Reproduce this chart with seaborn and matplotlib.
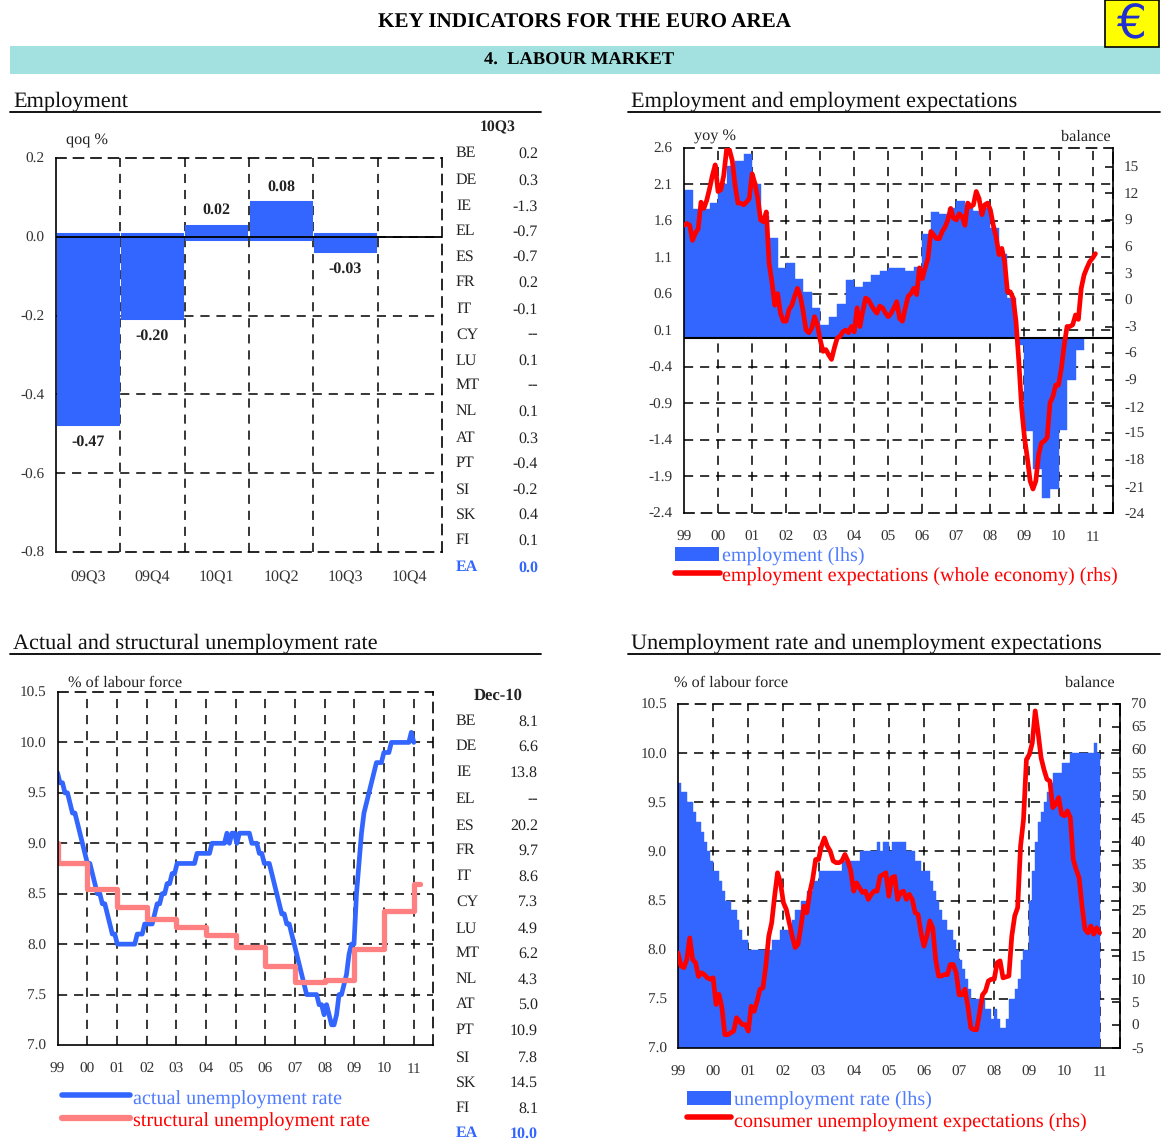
"""
Euro area key indicators - labour market page
"""
import numpy as np
import pandas as pd
import matplotlib
matplotlib.use('Agg')
import matplotlib.pyplot as plt
from matplotlib.lines import Line2D
from matplotlib.patches import Rectangle
import seaborn as sns

W, H = 1165, 1140
BLUE = '#3366FF'
RED = '#FF0000'
PINK = '#FF8080'
DASH = (0, (6, 4.5))

# Employment, qoq %
emp_quarters = ['09Q3', '09Q4', '10Q1', '10Q2', '10Q3', '10Q4']
emp_qoq = [-0.47, -0.20, 0.02, 0.08, -0.03, np.nan]

countries = ['BE', 'DE', 'IE', 'EL', 'ES', 'FR', 'IT', 'CY', 'LU', 'MT', 'NL', 'AT', 'PT', 'SI', 'SK', 'FI', 'EA']
emp_table = ['0.2', '0.3', '-1.3', '-0.7', '-0.7', '0.2', '-0.1', '--', '0.1', '--', '0.1', '0.3', '-0.4', '-0.2', '0.4', '0.1', '0.0']
unemp_table = ['8.1', '6.6', '13.8', '--', '20.2', '9.7', '8.6', '7.3', '4.9', '6.2', '4.3', '5.0', '10.9', '7.8', '14.5', '8.1', '10.0']

year_labels = ['99', '00', '01', '02', '03', '04', '05', '06', '07', '08', '09', '10', '11']

# Employment, yoy %, quarterly from 99Q1
emp_yoy = [2.02, 1.76, 1.76, 1.85, 2.10, 2.35, 2.42, 2.52,
           2.11, 1.67, 1.37, 0.95, 1.02, 0.81, 0.63, 0.41,
           0.18, 0.29, 0.46, 0.79, 0.69, 0.76, 0.86, 0.92,
           0.95, 0.95, 0.92, 0.97, 1.42, 1.72, 1.69, 1.78,
           1.88, 1.81, 1.74, 1.78, 1.51, 1.15, 0.55, -0.10,
           -1.28, -1.80, -2.20, -2.07, -1.26, -0.58, -0.17]

# Employment expectations, balance, monthly from Jan 99
emp_expect = [8.4, 8.6, 8.4, 6.7, 7.5, 8.0, 11.0, 10.3, 11.2, 12.5, 14.0, 15.2,
              12.2, 12.4, 14.0, 16.9, 16.9, 15.7, 12.9, 10.9, 10.9, 10.7, 11.0, 11.4,
              14.2, 13.1, 11.4, 9.0, 8.8, 9.9, 4.1, 2.0, -0.6, 0.7, -1.5, -2.4,
              -2.4, -1.1, -0.6, 0.4, 1.3, 0.4, -1.3, -3.4, -3.7, -3.2, -1.9, -2.8,
              -4.5, -5.8, -5.6, -6.2, -6.7, -5.4, -4.3, -4.1, -3.6, -3.4, -3.7, -3.0,
              -3.6, -0.9, -3.0, -1.3, 0.2, 0.0, -0.6, -1.1, -1.5, -0.7, -0.9, -1.5,
              -1.9, -1.5, -0.9, -0.2, -2.1, -2.4, -0.9, 0.4, 0.7, 1.3, 0.6, 3.6,
              2.4, 3.6, 4.7, 7.7, 7.3, 6.9, 6.9, 7.7, 8.2, 9.0, 10.3, 9.2,
              9.0, 9.7, 9.4, 8.4, 10.9, 10.5, 10.7, 12.2, 11.4, 9.6, 10.7, 10.9,
              10.1, 8.4, 7.1, 5.1, 5.8, 4.3, 0.9, 0.9, 0.2, -2.4, -6.9, -12.2,
              -15.5, -17.8, -20.4, -21.3, -20.4, -17.4, -16.1, -15.9, -15.5, -11.6, -10.9, -9.6,
              -9.6, -7.7, -5.1, -3.0, -3.0, -2.8, -1.7, -2.2, 1.3, 2.8, 3.6, 4.3,
              4.7, 5.2]

# Unemployment rate, monthly from Jan 99
unemp_rate = [9.7, 9.6, 9.6, 9.5, 9.5, 9.4, 9.3, 9.3, 9.2, 9.1, 9.0, 8.9,
              8.8, 8.8, 8.7, 8.6, 8.5, 8.5, 8.4, 8.4, 8.3, 8.2, 8.1, 8.1,
              8.0, 8.0, 8.0, 8.0, 8.0, 8.0, 8.0, 8.0, 8.1, 8.1, 8.1, 8.2,
              8.2, 8.2, 8.2, 8.3, 8.4, 8.4, 8.5, 8.5, 8.6, 8.6, 8.7, 8.7,
              8.8, 8.8, 8.8, 8.8, 8.8, 8.8, 8.8, 8.8, 8.9, 8.9, 8.9, 8.9,
              8.9, 8.9, 9.0, 9.0, 9.0, 9.0, 9.0, 9.0, 9.1, 9.0, 9.1, 9.1,
              9.0, 9.1, 9.1, 9.1, 9.1, 9.1, 9.0, 9.0, 9.0, 8.9, 8.9, 8.8,
              8.8, 8.8, 8.7, 8.6, 8.5, 8.4, 8.3, 8.3, 8.2, 8.2, 8.1, 8.0,
              7.9, 7.8, 7.7, 7.6, 7.5, 7.5, 7.5, 7.5, 7.5, 7.4, 7.4, 7.3,
              7.4, 7.3, 7.2, 7.2, 7.3, 7.5, 7.5, 7.6, 7.7, 7.9, 8.0, 8.0,
              8.5, 8.8, 9.1, 9.3, 9.4, 9.5, 9.6, 9.7, 9.8, 9.8, 9.8, 9.9,
              9.9, 9.9, 10.0, 10.0, 10.0, 10.0, 10.0, 10.0, 10.0, 10.0, 10.1, 10.0]

# Structural rate, yearly steps (first value is the drop at the axis)
struct_years = [0, 0, 1, 2, 3, 4, 5, 6, 7, 8, 9, 10, 11, 12, 12.2]
struct_rate = [9.0, 8.8, 8.55, 8.37, 8.25, 8.17, 8.09, 7.97, 7.78, 7.62, 7.64, 7.95, 8.33, 8.6, 8.6]

# Consumer unemployment expectations, balance, monthly from Jan 99
unemp_expect = [15.7, 12.9, 12.5, 14.3, 19.0, 14.3, 13.6, 10.6, 11.4, 11.0, 10.3, 10.0,
                10.3, 4.5, 6.7, 3.8, -2.1, -2.1, -1.7, -1.3, 1.6, 0.8, 0.1, 0.1,
                -1.3, 4.1, 3.0, 5.2, 7.8, 8.1, 12.9, 19.4, 22.3, 28.1, 33.2, 31.0,
                26.7, 25.2, 22.3, 19.4, 16.9, 17.6, 21.6, 25.9, 24.5, 28.9, 31.8, 36.1,
                36.1, 39.0, 40.8, 39.0, 37.9, 35.8, 35.4, 35.4, 35.8, 37.2, 35.8, 33.6,
                29.2, 31.0, 29.9, 28.9, 29.2, 27.4, 28.5, 29.2, 29.2, 32.4, 32.8, 33.2,
                28.1, 32.1, 32.4, 27.4, 28.9, 29.2, 27.4, 28.5, 27.4, 24.5, 24.1, 20.1,
                17.2, 19.4, 22.7, 21.2, 14.3, 10.7, 10.7, 11.0, 11.0, 13.2, 13.2, 11.4,
                6.6, 6.6, 7.8, 4.1, -0.6, -1.0, -1.0, 2.7, 6.6, 7.4, 9.6, 10.0,
                10.0, 13.6, 14.0, 10.3, 10.5, 10.7, 19.4, 23.8, 25.6, 39.0, 44.8, 57.9,
                59.0, 61.5, 68.5, 63.7, 58.3, 55.7, 53.6, 53.2, 47.4, 48.1, 49.6, 46.0,
                45.6, 46.7, 45.2, 36.1, 33.9, 32.1, 25.9, 20.9, 20.1, 21.6, 19.8, 21.2,
                20.1]


def fx(x):
    return x / W


def fy(y):
    return 1 - y / H


def make_axes(fig, left, top, right, bottom):
    return fig.add_axes([fx(left), fy(bottom), (right - left) / W, (bottom - top) / H])


def put_text(fig, x, y, s, size=11.7, ha='left', color='#222222', weight='normal'):
    # va center sits a little high for this font
    fig.text(fx(x), fy(y + 1.5), s, fontsize=size, ha=ha, va='center', color=color, fontweight=weight)


def style_axes(ax, solid=('left',)):
    ax.set_axisbelow(True)
    ax.set_xlabel('')
    ax.set_ylabel('')
    for name, spine in ax.spines.items():
        spine.set_visible(True)
        spine.set_color('black')
        spine.set_linewidth(1.2)
        spine.set_linestyle('-' if name in solid else DASH)
    ax.grid(True, color='black', linewidth=1.1, linestyle=DASH)
    ax.tick_params(axis='both', colors='#333333', labelsize=11)


def hide_edge_grid(ax):
    # grid lines on the frame would fill in the dashes of the spines
    for line in [ax.get_ygridlines()[0], ax.get_ygridlines()[-1]]:
        line.set_visible(False)
    xlines = ax.get_xgridlines()
    if len(xlines) > 1:
        xlines[0].set_visible(False)


def style_years(ax, n_years=12):
    ax.set_xticks(range(n_years + 1))
    ax.set_xticklabels(year_labels)
    ax.tick_params(axis='x', direction='inout', length=7, width=1.1, color='black', pad=9)
    ax.tick_params(axis='y', length=0, pad=8)
    hide_edge_grid(ax)


def style_right(twin, ticks):
    for name, spine in twin.spines.items():
        spine.set_visible(name == 'right')
    twin.spines['right'].set_color('black')
    twin.spines['right'].set_linewidth(1.2)
    twin.set_yticks(ticks)
    twin.grid(False)
    twin.set_ylabel('')
    twin.tick_params(axis='y', direction='in', length=6, width=1.1, color='black',
                     labelcolor='#333333', labelsize=11, pad=8)


def country_table(fig, header, size, values, header_y, rows_y):
    put_text(fig, 498, header_y, header, size=size, ha='center', weight='bold')
    for name, value, y in zip(countries, values, rows_y):
        is_ea = name == 'EA'
        color = BLUE if is_ea else '#222222'
        weight = 'bold' if is_ea else 'normal'
        put_text(fig, 456, y, name, size=11.5, color=color, weight=weight)
        put_text(fig, 538, y, value, size=11.5, ha='right', color=color, weight=weight)


sns.set_theme(style='white')
plt.rcParams['font.family'] = ['Liberation Serif', 'DejaVu Sans']
plt.rcParams['axes.unicode_minus'] = False
plt.rcParams['text.hinting'] = 'no_hinting'

fig = plt.figure(figsize=(W / 100, H / 100), dpi=100, facecolor='white')

# page header
put_text(fig, 585, 21.5, 'KEY INDICATORS FOR THE EURO AREA', size=15.2, ha='center', color='black', weight='bold')
fig.add_artist(Rectangle((fx(10), fy(74)), 1150 / W, 28 / H, transform=fig.transFigure, facecolor='#A3E0E0', edgecolor='none'))
put_text(fig, 579, 58.5, '4.  LABOUR MARKET', size=13.3, ha='center', color='black', weight='bold')
fig.add_artist(Rectangle((fx(1105), fy(47)), 54 / W, 47 / H, transform=fig.transFigure, facecolor='#FFFF00', edgecolor='black', linewidth=1.2))
fig.text(fx(1132), fy(25), '\u20ac', fontsize=34, ha='center', va='center', color='#1F2FD0', family='DejaVu Sans')

# panel headings
for x0, x1, y, title in [(10, 541, 112, 'Employment'),
                         (628, 1160, 112, 'Employment and employment expectations'),
                         (10, 541, 654, 'Actual and structural unemployment rate'),
                         (628, 1160, 654, 'Unemployment rate and unemployment expectations')]:
    put_text(fig, x0 + 3, y - 12, title, size=16, color='#111111')
    fig.add_artist(Line2D([fx(x0), fx(x1)], [fy(y), fy(y)], transform=fig.transFigure, color='black', linewidth=1.3))

# Employment qoq bars
ax_a = make_axes(fig, 56, 158, 442, 552)
df_a = pd.DataFrame({'quarter': emp_quarters, 'qoq': emp_qoq})
sns.barplot(data=df_a, x='quarter', y='qoq', color=BLUE, saturation=1, width=0.86,
            edgecolor=BLUE, linewidth=5.8, ax=ax_a)
style_axes(ax_a)
ax_a.set_xlim(-0.5, 5.5)
ax_a.set_ylim(-0.8, 0.2)
ax_a.set_yticks([-0.8, -0.6, -0.4, -0.2, 0.0, 0.2])
ax_a.set_xticks(np.arange(0.5, 5), minor=True)
ax_a.grid(False, which='major', axis='x')
ax_a.grid(True, which='minor', axis='x', color='black', linewidth=1.1, linestyle=DASH)
ax_a.tick_params(axis='x', which='both', length=0, pad=13, labelsize=11.5)
ax_a.tick_params(axis='y', length=0, pad=8)
for line in [ax_a.get_ygridlines()[0], ax_a.get_ygridlines()[-1]]:
    line.set_visible(False)
ax_a.axhline(0, color='black', linewidth=1.3)
for i, v in enumerate(emp_qoq):
    if np.isnan(v):
        continue
    ax_a.annotate(f'{v:.2f}', (i, v), xytext=(0, 13.5 if v > 0 else -14.5), textcoords='offset points',
                  ha='center', va='center', fontsize=11.5, fontweight='bold', color='#222222')
put_text(fig, 87, 139, 'qoq %', ha='center')
country_table(fig, '10Q3', 11.3, emp_table, 126,
              [152, 179, 205, 230, 255, 281, 308, 333, 359, 384, 410, 437, 462, 488, 513, 539, 566])

# Employment yoy and expectations
ax_b = make_axes(fig, 684, 148, 1113, 513)
quarter_x = (np.arange(len(emp_yoy)) + 0.5) / 4
sns.barplot(x=quarter_x, y=emp_yoy, native_scale=True, color=BLUE, saturation=1, width=1,
            edgecolor=BLUE, linewidth=0.3, ax=ax_b)
style_axes(ax_b, solid=('left',))
ax_b.set_xlim(0, 12.6)
ax_b.set_ylim(-2.4, 2.6)
ax_b.set_yticks([-2.4, -1.9, -1.4, -0.9, -0.4, 0.1, 0.6, 1.1, 1.6, 2.1, 2.6])
style_years(ax_b)
ax_b.axhline(0, color='black', linewidth=1.5)
twin_b = ax_b.twinx()
sns.lineplot(x=np.arange(len(emp_expect)) / 12, y=emp_expect, color=RED, linewidth=3.4, ax=twin_b)
twin_b.set_ylim(-24, 17.1)
style_right(twin_b, np.arange(-24, 16, 3))
put_text(fig, 715, 135, 'yoy %', ha='center')
put_text(fig, 1086, 135, 'balance', ha='center')

# legend B
fig.add_artist(Rectangle((fx(675), fy(561)), 44 / W, 14 / H, transform=fig.transFigure, facecolor=BLUE, edgecolor='none'))
put_text(fig, 722, 555, 'employment (lhs)', size=14.5, color='#4F7CFF')
fig.add_artist(Line2D([fx(675), fx(720)], [fy(573), fy(573)], transform=fig.transFigure, color=RED, linewidth=4))
put_text(fig, 722, 575, 'employment expectations (whole economy) (rhs)', size=14.5, color=RED)

# Actual and structural rate
ax_c = make_axes(fig, 57.5, 692, 432.5, 1045)
month_x = np.arange(len(unemp_rate)) / (len(unemp_rate) - 1) * 12
sns.lineplot(x=month_x, y=unemp_rate, color=BLUE, linewidth=3.4, ax=ax_c)
sns.lineplot(x=struct_years, y=struct_rate, color=PINK, linewidth=3.8, estimator=None, sort=False,
             drawstyle='steps-post', ax=ax_c)
style_axes(ax_c, solid=('left', 'bottom'))
ax_c.set_xlim(0, 12.63)
ax_c.set_ylim(7.0, 10.5)
ax_c.set_yticks(np.arange(7.0, 10.6, 0.5))
style_years(ax_c)
put_text(fig, 125, 681, '% of labour force', ha='center')
country_table(fig, 'Dec-10', 12, unemp_table, 694,
              [720, 745, 771, 798, 824, 849, 875, 900, 927, 952, 978, 1003, 1029, 1056, 1081, 1107, 1132])

# legend C
fig.add_artist(Line2D([fx(62), fx(130)], [fy(1095), fy(1095)], transform=fig.transFigure, color=BLUE, linewidth=4))
put_text(fig, 133, 1098, 'actual unemployment rate', size=14.5, color='#4F7CFF')
fig.add_artist(Line2D([fx(62), fx(130)], [fy(1118), fy(1118)], transform=fig.transFigure, color=PINK, linewidth=4.5))
put_text(fig, 133, 1120, 'structural unemployment rate', size=14.5, color=RED)

# Unemployment rate and expectations
ax_d = make_axes(fig, 678, 704, 1120, 1048)
bar_x = (np.arange(len(unemp_rate)) + 0.5) / 12
sns.barplot(x=bar_x, y=unemp_rate, native_scale=True, color=BLUE, saturation=1, width=1,
            edgecolor=BLUE, linewidth=0.3, ax=ax_d)
style_axes(ax_d, solid=('left', 'bottom'))
ax_d.set_xlim(0, 12.58)
ax_d.set_ylim(7.0, 10.5)
ax_d.set_yticks(np.arange(7.0, 10.6, 0.5))
style_years(ax_d)
twin_d = ax_d.twinx()
sns.lineplot(x=np.arange(len(unemp_expect)) / 12, y=unemp_expect, color=RED, linewidth=3.4, ax=twin_d)
twin_d.set_ylim(-5, 70)
style_right(twin_d, np.arange(-5, 71, 5))
put_text(fig, 731, 681, '% of labour force', ha='center')
put_text(fig, 1090, 681, 'balance', ha='center')

# legend D
fig.add_artist(Rectangle((fx(687), fy(1105)), 44 / W, 14 / H, transform=fig.transFigure, facecolor=BLUE, edgecolor='none'))
put_text(fig, 734, 1099, 'unemployment rate (lhs)', size=14.5, color='#4F7CFF')
fig.add_artist(Line2D([fx(687), fx(731)], [fy(1117), fy(1117)], transform=fig.transFigure, color=RED, linewidth=4))
put_text(fig, 734, 1121, 'consumer unemployment expectations (rhs)', size=14.5, color=RED)

fig.savefig('out.png', dpi=100)
